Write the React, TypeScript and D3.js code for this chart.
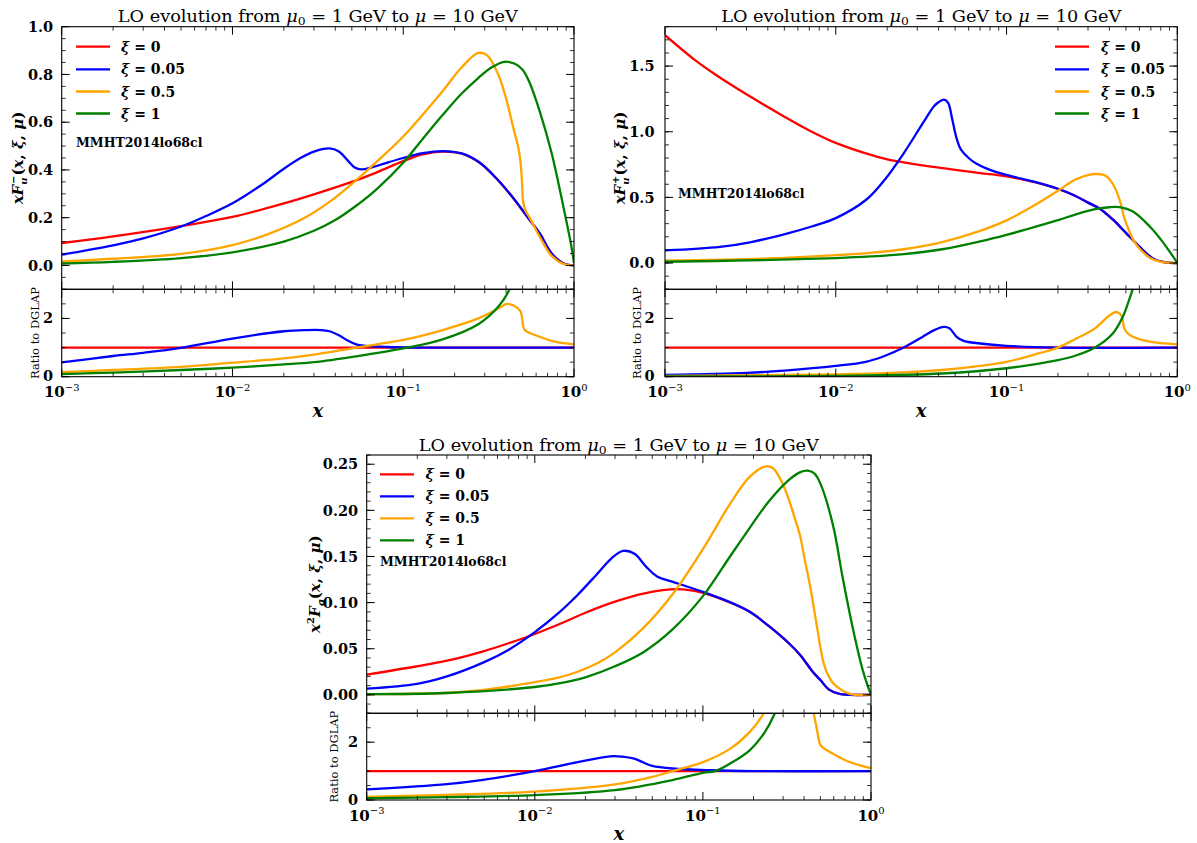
import React from 'react';
import * as d3 from 'd3';

type Pt = [number, number];

// ---------- shared labels ----------
const XI_LABELS = ['0', '0.05', '0.5', '1'];
const LINE_COLORS = ['red', 'blue', 'orange', 'green'];
const X_DECADES = [1e-3, 1e-2, 1e-1, 1];
const X_DECADE_EXP = ['−3', '−2', '−1', '0'];
const RATIO_TICKS = [0, 2];
const RATIO_ONE: Pt[] = [[1e-3, 1], [1, 1]];

const uMinusYTicks = [0, 0.2, 0.4, 0.6, 0.8, 1.0];
const uPlusYTicks = [0, 0.5, 1.0, 1.5];
const gYTicks = [0, 0.05, 0.1, 0.15, 0.2, 0.25];

// ---------- Panel 1 : x F_u^- ----------
const uMinusXi0: Pt[] = [[1e-3,0.094],[2e-3,0.122],[5e-3,0.165],[1e-2,0.203],[2e-2,0.26],[3e-2,0.298],[5e-2,0.35],[7e-2,0.39],[0.1,0.437],[0.13,0.465],[0.17,0.477],[0.22,0.468],[0.28,0.43],[0.35,0.365],[0.42,0.3],[0.48,0.247],[0.55,0.19],[0.63,0.134],[0.74,0.05],[0.87,0.008],[1,0]];
const uMinusXi005: Pt[] = [[1e-3,0.045],[2e-3,0.084],[3e-3,0.113],[5e-3,0.163],[7e-3,0.207],[1e-2,0.26],[1.5e-2,0.34],[2e-2,0.405],[2.5e-2,0.45],[3e-2,0.477],[3.7e-2,0.49],[4.2e-2,0.477],[4.7e-2,0.442],[5.2e-2,0.41],[5.7e-2,0.402],[6.5e-2,0.41],[8e-2,0.43],[0.1,0.45],[0.13,0.47],[0.17,0.479],[0.22,0.469],[0.28,0.431],[0.35,0.366],[0.42,0.301],[0.48,0.248],[0.55,0.191],[0.63,0.134],[0.74,0.05],[0.87,0.008],[1,0]];
const uMinusXi05: Pt[] = [[1e-3,0.017],[2e-3,0.028],[5e-3,0.048],[1e-2,0.085],[1.6e-2,0.13],[2.7e-2,0.203],[3.7e-2,0.266],[5.3e-2,0.357],[7e-2,0.435],[0.1,0.54],[0.17,0.73],[0.22,0.83],[0.275,0.89],[0.31,0.88],[0.36,0.8],[0.4,0.7],[0.44,0.58],[0.47,0.5],[0.485,0.44],[0.497,0.34],[0.503,0.27],[0.52,0.23],[0.55,0.2],[0.63,0.12],[0.74,0.04],[0.87,0.006],[1,0]];
const uMinusXi1: Pt[] = [[1e-3,0.008],[2e-3,0.015],[5e-3,0.031],[1e-2,0.055],[2e-2,0.1],[3e-2,0.145],[4e-2,0.19],[5.3e-2,0.25],[7e-2,0.32],[0.1,0.43],[0.13,0.53],[0.17,0.63],[0.22,0.72],[0.275,0.785],[0.33,0.83],[0.39,0.853],[0.45,0.845],[0.5,0.82],[0.55,0.765],[0.63,0.645],[0.74,0.47],[0.87,0.24],[0.96,0.09],[1,0.01]];
const uMinusRatio005: Pt[] = [[1e-3,0.49],[2e-3,0.71],[3e-3,0.82],[5e-3,0.99],[1e-2,1.31],[2e-2,1.56],[2.7e-2,1.6],[3.3e-2,1.6],[3.7e-2,1.56],[4.2e-2,1.42],[4.7e-2,1.25],[5.3e-2,1.11],[6e-2,1.06],[8e-2,1.02],[0.12,1.0],[1,1]];
const uMinusRatio05: Pt[] = [[1e-3,0.16],[2e-3,0.23],[5e-3,0.34],[1e-2,0.48],[2e-2,0.63],[3e-2,0.76],[5.3e-2,1.0],[0.1,1.26],[0.17,1.6],[0.275,2.0],[0.36,2.34],[0.405,2.5],[0.44,2.45],[0.485,2.25],[0.497,2.0],[0.505,1.7],[0.52,1.58],[0.55,1.5],[0.63,1.37],[0.74,1.23],[0.87,1.15],[1,1.11]];
const uMinusRatio1: Pt[] = [[1e-3,0.09],[2e-3,0.14],[5e-3,0.23],[1e-2,0.31],[2e-2,0.42],[3e-2,0.5],[5.3e-2,0.7],[0.1,0.97],[0.17,1.28],[0.275,1.8],[0.36,2.4],[0.42,3.0],[0.46,3.6],[0.5,4.3]];

// ---------- Panel 2 : x F_u^+ ----------
const uPlusXi0: Pt[] = [[1e-3,1.735],[1.5e-3,1.545],[2e-3,1.43],[3e-3,1.285],[5e-3,1.115],[7e-3,1.01],[1e-2,0.915],[1.5e-2,0.835],[2e-2,0.79],[3e-2,0.75],[5e-2,0.71],[7e-2,0.685],[0.1,0.66],[0.15,0.612],[0.2,0.565],[0.25,0.515],[0.3,0.46],[0.35,0.415],[0.42,0.33],[0.5,0.23],[0.6,0.125],[0.72,0.035],[0.85,0.005],[1,0]];
const uPlusXi005: Pt[] = [[1e-3,0.096],[2.1e-3,0.123],[3.2e-3,0.16],[5.3e-3,0.228],[7.3e-3,0.28],[1e-2,0.342],[1.5e-2,0.48],[1.93e-2,0.633],[2.5e-2,0.836],[3.23e-2,1.064],[3.77e-2,1.196],[4e-2,1.225],[4.3e-2,1.245],[4.55e-2,1.22],[4.8e-2,1.1],[5.1e-2,0.95],[5.4e-2,0.865],[6e-2,0.8],[6.6e-2,0.76],[8e-2,0.71],[0.1,0.671],[0.15,0.615],[0.2,0.566],[0.25,0.515],[0.3,0.46],[0.35,0.415],[0.42,0.33],[0.5,0.23],[0.6,0.125],[0.72,0.035],[0.85,0.005],[1,0]];
const uPlusXi05: Pt[] = [[1e-3,0.018],[3e-3,0.03],[5e-3,0.04],[1e-2,0.06],[1.6e-2,0.078],[2.5e-2,0.105],[4.2e-2,0.16],[7e-2,0.245],[0.1,0.325],[0.15,0.45],[0.2,0.55],[0.25,0.633],[0.3,0.67],[0.34,0.678],[0.38,0.665],[0.42,0.6],[0.46,0.48],[0.487,0.354],[0.5,0.31],[0.55,0.18],[0.6,0.11],[0.69,0.04],[0.8,0.008],[1,0]];
const uPlusXi1: Pt[] = [[1e-3,0.01],[3e-3,0.02],[1e-2,0.038],[1.6e-2,0.05],[2.5e-2,0.068],[4.2e-2,0.105],[7e-2,0.165],[0.1,0.215],[0.15,0.279],[0.2,0.327],[0.25,0.367],[0.33,0.41],[0.4,0.425],[0.46,0.425],[0.55,0.392],[0.69,0.278],[0.8,0.18],[0.87,0.116],[0.95,0.045],[1,0]];
const uPlusRatio005: Pt[] = [[1e-3,0.06],[3e-3,0.13],[5e-3,0.21],[1e-2,0.37],[1.5e-2,0.51],[1.93e-2,0.71],[2.5e-2,1.0],[3.23e-2,1.37],[3.77e-2,1.6],[4.3e-2,1.71],[4.63e-2,1.66],[5.1e-2,1.37],[5.6e-2,1.23],[7e-2,1.14],[0.1,1.06],[0.2,1.0],[1,1]];
const uPlusRatio05: Pt[] = [[1e-3,0.03],[1e-2,0.08],[2.5e-2,0.15],[4.2e-2,0.23],[7e-2,0.37],[0.1,0.51],[0.15,0.78],[0.2,1.0],[0.25,1.28],[0.33,1.66],[0.4,2.1],[0.44,2.22],[0.47,2.1],[0.49,1.65],[0.51,1.5],[0.55,1.37],[0.69,1.2],[1,1.11]];
const uPlusRatio1: Pt[] = [[1e-3,0.01],[1e-2,0.03],[4.2e-2,0.11],[0.1,0.29],[0.2,0.57],[0.25,0.71],[0.33,1.0],[0.42,1.49],[0.48,2.06],[0.52,2.6],[0.56,3.2],[0.6,4]];

// ---------- Panel 3 : x^2 F_g ----------
const gXi0: Pt[] = [[1e-3,0.022],[2e-3,0.031],[3e-3,0.037],[5e-3,0.0475],[7e-3,0.056],[1e-2,0.066],[1.5e-2,0.079],[2e-2,0.089],[3e-2,0.101],[4.5e-2,0.11],[7e-2,0.1145],[0.1,0.1105],[0.145,0.1],[0.19,0.09],[0.245,0.075],[0.32,0.057],[0.38,0.043],[0.45,0.025],[0.5,0.016],[0.56,0.006],[0.65,0.001],[0.75,0],[1,0]];
const gXi005: Pt[] = [[1e-3,0.0068],[2e-3,0.012],[3e-3,0.02],[5e-3,0.0355],[7e-3,0.049],[1e-2,0.068],[1.37e-2,0.088],[1.79e-2,0.108],[2.32e-2,0.13],[2.86e-2,0.148],[3.35e-2,0.156],[3.92e-2,0.153],[4.59e-2,0.139],[5.37e-2,0.128],[6.63e-2,0.1225],[0.1,0.1116],[0.145,0.1005],[0.19,0.09],[0.245,0.075],[0.32,0.057],[0.38,0.043],[0.45,0.025],[0.5,0.016],[0.56,0.006],[0.65,0.001],[0.75,0],[1,0]];
const gXi05: Pt[] = [[1e-3,0.0007],[2.85e-3,0.002],[4.8e-3,0.005],[1e-2,0.0138],[1.4e-2,0.019],[1.8e-2,0.025],[2.4e-2,0.035],[3e-2,0.046],[4.4e-2,0.072],[6.6e-2,0.109],[0.1,0.158],[0.145,0.207],[0.189,0.236],[0.233,0.2475],[0.26,0.246],[0.287,0.235],[0.32,0.215],[0.354,0.19],[0.378,0.173],[0.405,0.145],[0.433,0.119],[0.476,0.075],[0.497,0.054],[0.52,0.036],[0.545,0.0246],[0.6,0.012],[0.75,0.001],[1,0]];
const gXi1: Pt[] = [[1e-3,0.0007],[3e-3,0.002],[1e-2,0.0085],[1.5e-2,0.0135],[2e-2,0.019],[3e-2,0.031],[4.4e-2,0.046],[6.6e-2,0.071],[0.1,0.107],[0.145,0.15],[0.19,0.181],[0.245,0.209],[0.32,0.232],[0.38,0.2415],[0.42,0.243],[0.46,0.24],[0.5,0.229],[0.594,0.184],[0.68,0.126],[0.78,0.072],[0.9,0.0246],[1,0]];
const gRatio005: Pt[] = [[1e-3,0.37],[3e-3,0.55],[4.8e-3,0.69],[1e-2,1.0],[1.8e-2,1.31],[2.8e-2,1.51],[3.3e-2,1.5],[3.9e-2,1.43],[4.5e-2,1.28],[5e-2,1.18],[6.6e-2,1.09],[0.11,1.03],[0.2,1.0],[1,1]];
const gRatio05: Pt[] = [[1e-3,0.11],[3e-3,0.18],[1e-2,0.29],[3e-2,0.54],[5e-2,0.8],[6.6e-2,1.0],[0.1,1.31],[0.145,1.77],[0.189,2.34],[0.227,2.94],[0.26,3.6],[0.3,4.6],[0.35,5.2],[0.4,4.8],[0.44,3.5],[0.46,2.9],[0.48,2.35],[0.497,1.94],[0.52,1.8],[0.594,1.6],[0.75,1.31],[1,1.1]];
const gRatio1: Pt[] = [[1e-3,0.06],[3e-3,0.1],[1e-2,0.17],[3e-2,0.34],[6.6e-2,0.69],[0.1,0.94],[0.118,1.0],[0.145,1.26],[0.189,1.71],[0.233,2.34],[0.265,2.94],[0.3,3.8],[0.35,5]];

const FONT = "'DejaVu Serif', serif";

interface PanelCfg {
  id: string;
  left: number; right: number; top: number; mid: number; bottom: number;
  yDomain: [number, number];
  yTicks: number[];
  yFmt: string;
  yMinorStep: number;
  tickPad: number;
  main: Pt[][];
  ratio: Pt[][];
  legend: { x0: number; x1: number; tx: number; ys: number[] };
  mmht: { x: number; y: number };
  kind: 'minus' | 'plus' | 'g';
  yLabelX: number;
  ratioLabelX: number;
}

function YLabel({ kind, x, y }: { kind: string; x: number; y: number }) {
  const tail = (back: number) => (
    <>
      <tspan fontStyle="normal" fontSize={15} dy={back}>(</tspan>
      <tspan fontStyle="italic">x</tspan>
      <tspan fontStyle="normal">{', '}</tspan>
      <tspan fontStyle="italic">ξ</tspan>
      <tspan fontStyle="normal">{', '}</tspan>
      <tspan fontStyle="italic">μ</tspan>
      <tspan fontStyle="normal">)</tspan>
    </>
  );
  return (
    <g transform={`translate(${x},${y}) rotate(-90)`}>
      <text textAnchor="middle" y={5} fontFamily={FONT} fontWeight="bold" fontSize={15}>
        {kind === 'g' ? (
          <>
            <tspan fontStyle="italic">x</tspan>
            <tspan fontSize={10} dy={-6}>2</tspan>
            <tspan fontStyle="italic" dy={6}>F</tspan>
            <tspan fontSize={10} fontStyle="italic" dy={4}>g</tspan>
            {tail(-4)}
          </>
        ) : (
          <>
            <tspan fontStyle="italic">xF</tspan>
            <tspan fontSize={10} fontStyle="italic" dy={4}>u</tspan>
            <tspan fontSize={10} dx={-6.5} dy={-10}>{kind === 'minus' ? '−' : '+'}</tspan>
            {tail(6)}
          </>
        )}
      </text>
    </g>
  );
}

function Panel({ c }: { c: PanelCfg }) {
  const xs = d3.scaleLog().domain([1e-3, 1]).range([c.left, c.right]);
  const ys = d3.scaleLinear().domain(c.yDomain).range([c.mid, c.top]);
  const yr = d3.scaleLinear().domain([0, 3]).range([c.bottom, c.mid]);
  const curve = d3.curveCatmullRom.alpha(0.5);
  const lineMain = d3.line<Pt>().x(d => xs(d[0])).y(d => ys(d[1])).curve(curve);
  const lineRatio = d3.line<Pt>().x(d => xs(d[0])).y(d => yr(d[1])).curve(curve);

  const xMinor: number[] = [];
  X_DECADES.slice(0, 3).forEach(d => { for (let k = 2; k <= 9; k++) xMinor.push(d * k); });
  const i0 = Math.ceil(c.yDomain[0] / c.yMinorStep - 1e-6);
  const i1 = Math.floor(c.yDomain[1] / c.yMinorStep + 1e-6);
  const yMinor = d3.range(i0, i1 + 1).map(i => i * c.yMinorStep);
  const rMinor = d3.range(0, 7).map(i => i * 0.5);
  const M = 8, m = 4;

  let major = '';
  let minor = '';
  X_DECADES.forEach(v => {
    const x = xs(v);
    major += `M${x},${c.top}v${M}M${x},${c.mid}v${-M}M${x},${c.mid}v${M}M${x},${c.bottom}v${-M}`;
  });
  xMinor.forEach(v => {
    const x = xs(v);
    minor += `M${x},${c.top}v${m}M${x},${c.mid}v${-m}M${x},${c.mid}v${m}M${x},${c.bottom}v${-m}`;
  });
  c.yTicks.forEach(v => {
    const y = ys(v);
    major += `M${c.left},${y}h${M}M${c.right},${y}h${-M}`;
  });
  yMinor.forEach(v => {
    const y = ys(v);
    minor += `M${c.left},${y}h${m}M${c.right},${y}h${-m}`;
  });
  RATIO_TICKS.forEach(v => {
    const y = yr(v);
    major += `M${c.left},${y}h${M}M${c.right},${y}h${-M}`;
  });
  rMinor.forEach(v => {
    const y = yr(v);
    minor += `M${c.left},${y}h${m}M${c.right},${y}h${-m}`;
  });

  const fmt = d3.format(c.yFmt);
  const cx = (c.left + c.right) / 2;
  const w = c.right - c.left;

  return (
    <g>
      <defs>
        <clipPath id={`${c.id}-m`}><rect x={c.left} y={c.top} width={w} height={c.mid - c.top} /></clipPath>
        <clipPath id={`${c.id}-r`}><rect x={c.left} y={c.mid} width={w} height={c.bottom - c.mid} /></clipPath>
      </defs>
      {/* title */}
      <text x={cx} y={c.top - 4.5} textAnchor="middle" fontFamily={FONT} fontSize={16.5}
        textLength={400} lengthAdjust="spacingAndGlyphs">
        <tspan>{'LO evolution from '}</tspan>
        <tspan fontStyle="italic">μ</tspan>
        <tspan fontSize={11.5} dy={3}>0</tspan>
        <tspan dy={-3}>{' = 1 GeV to '}</tspan>
        <tspan fontStyle="italic">μ</tspan>
        <tspan>{' = 10 GeV'}</tspan>
      </text>
      {/* curves */}
      <g clipPath={`url(#${c.id}-m)`} fill="none" strokeWidth={2.3} strokeLinejoin="round">
        {c.main.map((s, i) => <path key={i} d={lineMain(s) || ''} stroke={LINE_COLORS[i]} />)}
      </g>
      <g clipPath={`url(#${c.id}-r)`} fill="none" strokeWidth={2.3} strokeLinejoin="round">
        {[RATIO_ONE, ...c.ratio].map((s, i) => <path key={i} d={lineRatio(s) || ''} stroke={LINE_COLORS[i]} />)}
      </g>
      {/* ticks & frames */}
      <path d={minor} stroke="#000" strokeWidth={0.8} fill="none" />
      <path d={major} stroke="#000" strokeWidth={1} fill="none" />
      <rect x={c.left} y={c.top} width={w} height={c.mid - c.top} fill="none" stroke="#000" strokeWidth={1.1} />
      <rect x={c.left} y={c.mid} width={w} height={c.bottom - c.mid} fill="none" stroke="#000" strokeWidth={1.1} />
      {/* y tick labels */}
      <g fontFamily={FONT} fontWeight="bold" fontSize={14.5} textAnchor="end">
        {c.yTicks.map(v => (
          <text key={v} x={c.left - c.tickPad} y={ys(v)} dy="0.36em">{fmt(v)}</text>
        ))}
        {RATIO_TICKS.map(v => (
          <text key={'r' + v} x={c.left - c.tickPad} y={yr(v)} dy="0.33em">{String(v)}</text>
        ))}
      </g>
      {/* x tick labels */}
      <g fontFamily={FONT} fontWeight="bold" fontSize={15} textAnchor="middle">
        {X_DECADES.map((v, i) => (
          <text key={v} x={xs(v)} y={c.bottom + 20.5}>
            10<tspan fontSize={10} fontWeight="normal" dy={-6.5}>{X_DECADE_EXP[i]}</tspan>
          </text>
        ))}
      </g>
      <text x={cx} y={c.bottom + 40} textAnchor="middle" fontFamily={FONT} fontWeight="bold"
        fontStyle="italic" fontSize={18}>x</text>
      {/* y labels */}
      <YLabel kind={c.kind} x={c.yLabelX} y={(c.top + c.mid) / 2} />
      <g transform={`translate(${c.ratioLabelX},${(c.mid + c.bottom) / 2}) rotate(-90)`}>
        <text textAnchor="middle" y={4} fontFamily={FONT} fontSize={11.5}>Ratio to DGLAP</text>
      </g>
      {/* legend */}
      {XI_LABELS.map((lab, i) => (
        <g key={lab}>
          <line x1={c.legend.x0} x2={c.legend.x1} y1={c.legend.ys[i]} y2={c.legend.ys[i]}
            stroke={LINE_COLORS[i]} strokeWidth={2.3} />
          <text x={c.legend.tx} y={c.legend.ys[i]} dy="0.36em" fontFamily={FONT} fontWeight="bold" fontSize={14}>
            <tspan fontStyle="italic">ξ</tspan>{' = ' + lab}
          </text>
        </g>
      ))}
      <text x={c.mmht.x} y={c.mmht.y} fontFamily={FONT} fontWeight="bold" fontSize={12.5}>MMHT2014lo68cl</text>
    </g>
  );
}

const LEG_Y_TOP = [46.7, 69.3, 91.5, 113.5];

const panels: PanelCfg[] = [
  {
    id: 'p1', left: 61.7, right: 574, top: 26.7, mid: 289.3, bottom: 376.7,
    yDomain: [-0.1, 1.0], yTicks: uMinusYTicks, yFmt: '.1f', yMinorStep: 0.05, tickPad: 8.5,
    main: [uMinusXi0, uMinusXi005, uMinusXi05, uMinusXi1],
    ratio: [uMinusRatio005, uMinusRatio05, uMinusRatio1],
    legend: { x0: 76, x1: 110, tx: 121, ys: LEG_Y_TOP },
    mmht: { x: 76, y: 146.7 }, kind: 'minus', yLabelX: 18, ratioLabelX: 35,
  },
  {
    id: 'p2', left: 665, right: 1177.3, top: 26.7, mid: 289.3, bottom: 376.7,
    yDomain: [-0.2, 1.8], yTicks: uPlusYTicks, yFmt: '.1f', yMinorStep: 0.1, tickPad: 10.5,
    main: [uPlusXi0, uPlusXi005, uPlusXi05, uPlusXi1],
    ratio: [uPlusRatio005, uPlusRatio05, uPlusRatio1],
    legend: { x0: 1055, x1: 1089, tx: 1101, ys: LEG_Y_TOP },
    mmht: { x: 678, y: 198 }, kind: 'plus', yLabelX: 620, ratioLabelX: 636.5,
  },
  {
    id: 'p3', left: 366.7, right: 871, top: 455, mid: 713.3, bottom: 800,
    yDomain: [-0.02, 0.26], yTicks: gYTicks, yFmt: '.2f', yMinorStep: 0.01, tickPad: 8.5,
    main: [gXi0, gXi005, gXi05, gXi1],
    ratio: [gRatio005, gRatio05, gRatio1],
    legend: { x0: 380, x1: 414, tx: 425.5, ys: [474.3, 496.3, 518.3, 540.3] },
    mmht: { x: 380, y: 565.7 }, kind: 'g', yLabelX: 315, ratioLabelX: 334,
  },
];

export default function App() {
  return (
    <svg width={1197} height={843} viewBox="0 0 1197 843"
      style={{ position: 'absolute', left: 0, top: 0, background: '#fff' }}>
      <rect x={0} y={0} width={1197} height={843} fill="#fff" />
      {panels.map(p => <Panel key={p.id} c={p} />)}
    </svg>
  );
}
